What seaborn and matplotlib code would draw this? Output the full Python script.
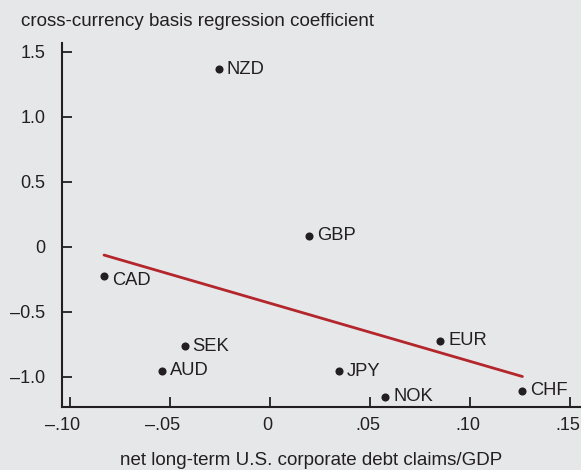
import pandas as pd
import matplotlib
matplotlib.use("Agg")
import matplotlib.pyplot as plt
import matplotlib.transforms as mtransforms
import seaborn as sns

# values
currencies = ["NZD", "GBP", "CAD", "SEK", "AUD", "JPY", "NOK", "EUR", "CHF"]
debt_claims = [-0.0255, 0.0197, -0.083, -0.0425, -0.054, 0.0345, 0.0577, 0.0852, 0.1262]
basis_coef = [1.365, 0.085, -0.225, -0.767, -0.954, -0.96, -1.154, -0.723, -1.11]

x_ticks = [-0.10, -0.05, 0, 0.05, 0.10, 0.15]
x_tick_labels = ["\u2013.10", "\u2013.05", "0", ".05", ".10", ".15"]
y_ticks = [-1.0, -0.5, 0, 0.5, 1.0, 1.5]
y_tick_labels = ["\u20131.0", "\u20130.5", "0", "0.5", "1.0", "1.5"]

df = pd.DataFrame({"currency": currencies, "x": debt_claims, "y": basis_coef})

bg = "#e6e7e9"
ink = "#231f20"

sns.set_style("ticks")
plt.rcParams["font.family"] = ["Liberation Sans", "DejaVu Sans"]

fig = plt.figure(figsize=(5.81, 4.70), dpi=100, facecolor=bg)
ax = fig.add_axes([0.1059, 0.1347, 0.8941, 0.7732], facecolor=bg)

# scatter + least squares line (fit done by seaborn)
sns.regplot(x="x", y="y", data=df, ci=None, truncate=True, ax=ax,
            scatter_kws={"s": 34, "color": ink, "alpha": 1, "linewidths": 0, "zorder": 3},
            line_kws={"color": "#b3262c", "linewidth": 2.0, "zorder": 2})

# labels next to the dots
for _, row in df.iterrows():
    dy = -3 if row["currency"] == "CAD" else 0
    ax.annotate(row["currency"], (row["x"], row["y"]), xytext=(5.5, dy),
                textcoords="offset points", va="center", ha="left",
                fontsize=13.2, color=ink)

ax.set_xlim(-0.10425, 0.1555)
ax.set_ylim(-1.2308, 1.565)
ax.set_xticks(x_ticks)
ax.set_xticklabels(x_tick_labels)
ax.set_yticks(y_ticks)
ax.set_yticklabels(y_tick_labels)
ax.tick_params(direction="in", length=7.5, width=1.3, colors=ink, labelsize=13)
ax.tick_params(axis="x", pad=7.5)
ax.tick_params(axis="y", pad=11.5)

# the original nudges the x labels a little to the left, negatives more
for lab in ax.get_xticklabels():
    shift = -5.5 if lab.get_text().startswith("\u2013") else -1.8
    lab.set_transform(lab.get_transform() + mtransforms.ScaledTranslation(shift / 72, 0, fig.dpi_scale_trans))

sns.despine(ax=ax)
for side in ["left", "bottom"]:
    ax.spines[side].set_linewidth(1.5)
    ax.spines[side].set_color(ink)

ax.set_xlabel("net long-term U.S. corporate debt claims/GDP", fontsize=13.5, color=ink,
              va="baseline")
ax.xaxis.set_label_coords(0.481, -0.1603)
ax.set_ylabel("")
fig.text(0.0353, 0.9447, "cross-currency basis regression coefficient",
         fontsize=13.5, color=ink, ha="left", va="baseline")

plt.savefig("out.png", dpi=100, facecolor=bg)
